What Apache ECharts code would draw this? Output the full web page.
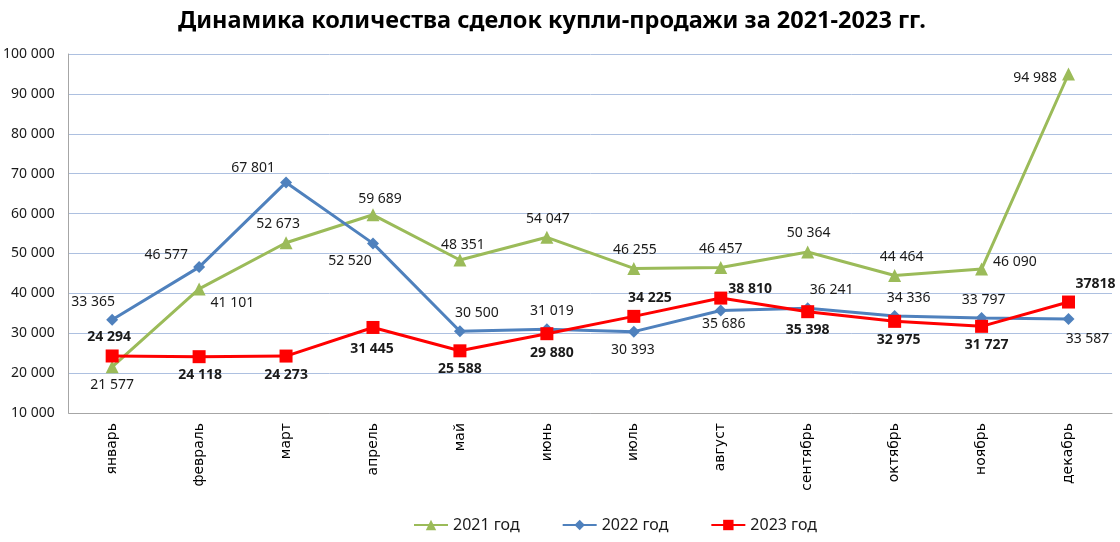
<!DOCTYPE html>
<html>
<head>
<meta charset="utf-8">
<script src="https://cdn.jsdelivr.net/npm/echarts@6/dist/echarts.min.js"></script>
<style>html,body{margin:0;padding:0;background:#fff}#c{width:1120px;height:542px}</style>
</head>
<body>
<div id="c"></div>
<script>
const categories = ['январь','февраль','март','апрель','май','июнь','июль','август','сентябрь','октябрь','ноябрь','декабрь'];
const seriesNames = ['2021 год','2022 год','2023 год'];
const values2021 = [21577, 41101, 52673, 59689, 48351, 54047, 46255, 46457, 50364, 44464, 46090, 94988];
const values2022 = [33365, 46577, 67801, 52520, 30500, 31019, 30393, 35686, 36241, 34336, 33797, 33587];
const values2023 = [24294, 24118, 24273, 31445, 25588, 29880, 34225, 38810, 35398, 32975, 31727, 37818];
const yTicks = {min: 10000, max: 100000, interval: 10000};

// label placement [position, dx, dy]
const pos2021 = [['bottom',0,0],['right',0,14],['top',-8,0],['top',7,3],['top',3,3],['top',1,0],['top',1,0],['top',0,0],['top',1,0],['top',7,0],['right',0,-7],['left',0,4]];
const pos2022 = [['top',-19,0],['left',0,-12],['left',0,-14],['bottom',-23,0],['top',17,0],['top',5,0],['bottom',-1,0],['bottom',3,-5],['top',24,0],['top',14,0],['top',2,0],['bottom',19,2]];
const pos2023 = [['top',-3,0],['bottom',1,0],['bottom',0,0],['bottom',-1,3],['bottom',0,0],['bottom',5,1],['top',16,0],['right',-4,-9],['bottom',0,0],['bottom',4,0],['bottom',5,0],['top',27,0]];

function fmt(v){ return String(v).replace(/\B(?=(\d{3})+(?!\d))/g, ' '); }

function build(vals, posArr, bold, rawLast){
  return vals.map((v,i)=>({
    value: v,
    label: {
      show: true,
      position: posArr[i][0],
      offset: [posArr[i][1], posArr[i][2]],
      formatter: (rawLast && i === vals.length-1) ? String(v) : fmt(v),
      fontWeight: bold ? 'bold' : 'normal'
    }
  }));
}

const labelBase = {fontFamily:'Noto Sans', fontSize:14, color:'#1a1a1a'};

const chart = echarts.init(document.getElementById('c'));
chart.setOption({
  animation: false,
  backgroundColor: '#fff',
  title: {
    text: 'Динамика количества сделок купли-продажи за 2021-2023 гг.',
    left: 173, top: 4,
    textStyle: {fontFamily:'Noto Sans', fontSize:23.5, fontWeight:'bold', color:'#000'}
  },
  legend: {
    bottom: 4, left: 408,
    itemWidth: 34, itemHeight: 13, itemGap: 42,
    textStyle: {fontFamily:'Noto Sans', fontSize:16, color:'#1a1a1a'},
    data: seriesNames
  },
  grid: {left: 68, right: 8, top: 54, bottom: 129, containLabel: false},
  xAxis: {
    type: 'category',
    data: categories,
    boundaryGap: true,
    axisLine: {lineStyle: {color:'#a6a6a6', width:1}},
    axisTick: {show: false},
    axisLabel: {rotate: 90, margin: 10, fontFamily:'DejaVu Sans', fontSize:14, color:'#000'}
  },
  yAxis: {
    type: 'value',
    min: yTicks.min, max: yTicks.max, interval: yTicks.interval,
    axisLine: {show: true, lineStyle: {color:'#a6a6a6', width:1}},
    axisTick: {show: false},
    splitLine: {lineStyle: {color:'#adc0e0', width:1}},
    axisLabel: {margin: 14, fontFamily:'Noto Sans', fontSize:14, color:'#1a1a1a', formatter: v => fmt(v)}
  },
  series: [
    {
      name: seriesNames[0], type: 'line', data: build(values2021, pos2021, false, false),
      symbol: 'triangle', symbolSize: 13,
      lineStyle: {color:'#9bbb59', width:3}, itemStyle: {color:'#9bbb59'},
      label: labelBase
    },
    {
      name: seriesNames[1], type: 'line', data: build(values2022, pos2022, false, false),
      symbol: 'diamond', symbolSize: 12,
      lineStyle: {color:'#4f81bd', width:3}, itemStyle: {color:'#4f81bd'},
      label: labelBase
    },
    {
      name: seriesNames[2], type: 'line', data: build(values2023, pos2023, true, true),
      symbol: 'rect', symbolSize: 13,
      lineStyle: {color:'#ff0000', width:3}, itemStyle: {color:'#ff0000'},
      label: labelBase
    }
  ]
});
</script>
</body>
</html>
